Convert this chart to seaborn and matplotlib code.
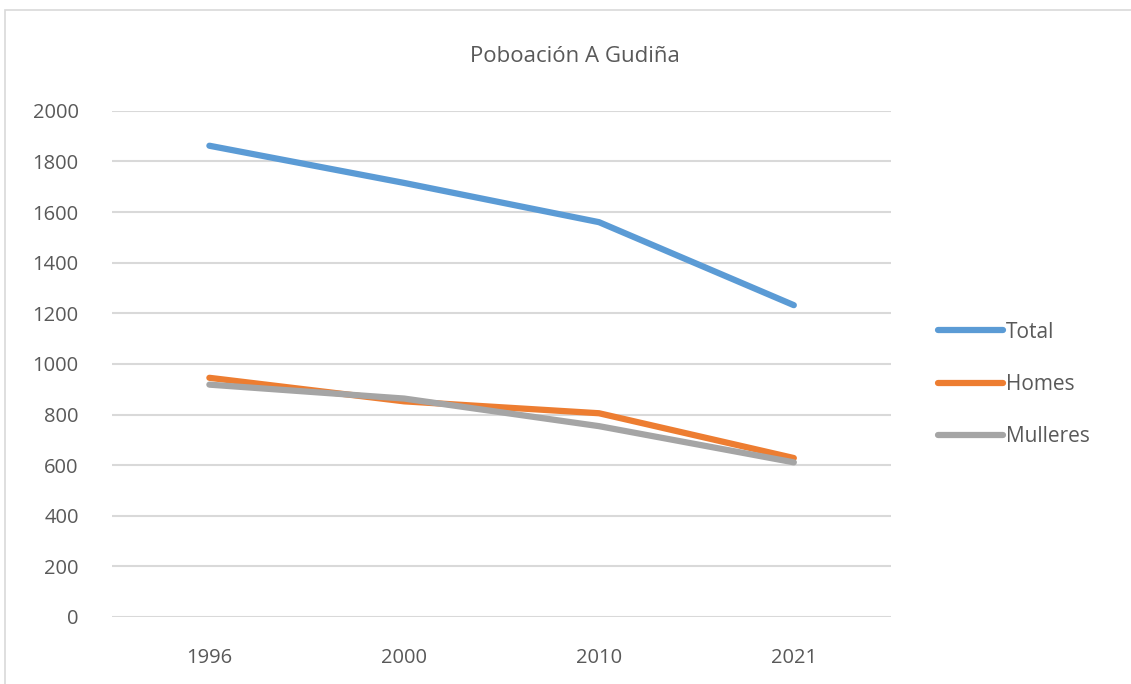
import pandas as pd
import seaborn as sns
import matplotlib.pyplot as plt
from matplotlib.patches import Rectangle

# Data
years = ['1996', '2000', '2010', '2021']
total = [1862, 1715, 1560, 1232]
homes = [945, 852, 805, 628]
mulleres = [918, 863, 754, 611]

df = pd.DataFrame({
    'Ano': years * 3,
    'Poboación': total + homes + mulleres,
    'Serie': ['Total'] * 4 + ['Homes'] * 4 + ['Mulleres'] * 4,
})

palette = {'Total': '#5B9BD5', 'Homes': '#ED7D31', 'Mulleres': '#A5A5A5'}
text_col = '#595959'

sns.set_style('white')
plt.rcParams['font.family'] = ['Open Sans', 'DejaVu Sans']

fig = plt.figure(figsize=(11.31, 6.84), dpi=100)
ax = fig.add_axes([0.099, 0.098, 0.689, 0.740])

# light chart-area frame
fig.patches.append(Rectangle((5 / 1131, -0.01), 1.02, 1 - 10 / 684 + 0.01,
                             transform=fig.transFigure, fill=False,
                             edgecolor='#D9D9D9', linewidth=1.2))

sns.lineplot(data=df, x='Ano', y='Poboación', hue='Serie', palette=palette,
             linewidth=4.5, sort=False, ax=ax, solid_capstyle='round')

ax.set_ylim(0, 2000)
ax.set_xlim(-0.5, 3.5)
ax.set_yticks(range(0, 2001, 200))
ax.yaxis.grid(True, color='#D9D9D9', linewidth=1.5)
ax.set_axisbelow(True)
for s in ax.spines.values():
    s.set_visible(False)
ax.tick_params(axis='both', length=0, labelsize=14.5, labelcolor=text_col)
ax.tick_params(axis='y', pad=24)
ax.tick_params(axis='x', pad=22)
ax.set_xlabel('')
ax.set_ylabel('')

fig.text(0.508, 0.918, 'Poboación A Gudiña', ha='center', va='center',
         fontsize=16, color=text_col)

handles, labels = ax.get_legend_handles_labels()
ax.legend_.remove()
leg = fig.legend(handles, labels, loc='upper left', bbox_to_anchor=(0.813, 0.557),
                 frameon=False, handlelength=3.1, handletextpad=0.15,
                 labelspacing=1.5, fontsize=15)
for t in leg.get_texts():
    t.set_color(text_col)
for h in leg.get_lines():
    h.set_linewidth(4.5)
    h.set_solid_capstyle('round')

fig.savefig('out.png', dpi=100)
